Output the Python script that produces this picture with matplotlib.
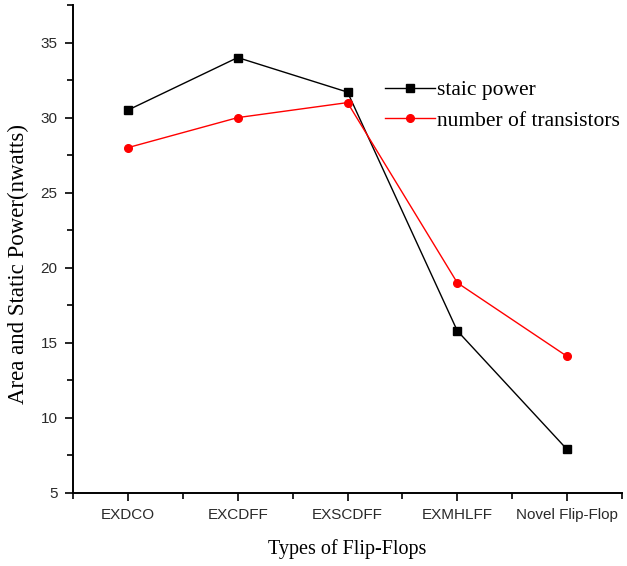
import matplotlib
matplotlib.use("Agg")
import matplotlib.pyplot as plt
from matplotlib.ticker import MultipleLocator

categories = ["EXDCO", "EXCDFF", "EXSCDFF", "EXMHLFF", "Novel Flip-Flop"]
static_power = [30.5, 34.0, 31.7, 15.8, 7.9]
num_transistors = [28.0, 30.0, 31.0, 19.0, 14.1]
yticks = [5, 10, 15, 20, 25, 30, 35]

fig = plt.figure(figsize=(6.27, 5.66), dpi=100)
ax = fig.add_axes([73/627, 1-493/566, (622-73)/627, (493-5)/566])

x = list(range(1, len(categories) + 1))
ax.plot(x, static_power, color="black", lw=1, marker="s", ms=5.5, label="staic power")
ax.plot(x, num_transistors, color="red", lw=1, marker="o", ms=5.5, label="number of transistors")

ax.set_xlim(0.5, 5.5)
ax.set_ylim(5, 37.5)
ax.set_xticks(x)
ax.set_xticklabels(categories, family="Liberation Sans", fontsize=11, color="#2a2a2a")
ax.set_xticks([i + 0.5 for i in range(0, 6)], minor=True)
ax.set_yticks(yticks)
ax.set_yticklabels([str(v) for v in yticks], family="Liberation Sans", fontsize=11, color="#2a2a2a")
ax.yaxis.set_minor_locator(MultipleLocator(2.5))
ax.tick_params(which="major", direction="out", length=6, width=1.2, pad=5)
ax.tick_params(which="minor", direction="out", length=4, width=1.2)
for s in ["top", "right"]:
    ax.spines[s].set_visible(False)
for s in ["left", "bottom"]:
    ax.spines[s].set_linewidth(1.4)

ax.set_xlabel("Types of Flip-Flops", family="Liberation Serif", fontsize=14.5, labelpad=12)
ax.set_ylabel("Area and Static Power(nwatts)", family="Liberation Serif", fontsize=16.5)
ax.yaxis.set_label_coords(-0.080, 0.469)

leg = ax.legend(loc="upper left", bbox_to_anchor=(385/627, 1-80/566), bbox_transform=fig.transFigure,
                frameon=False, prop={"family": "Liberation Serif", "size": 15.5},
                handlelength=2.3, handletextpad=0.1, labelspacing=0.5, borderpad=0,
                borderaxespad=0)

fig.savefig("out.png", dpi=100)
